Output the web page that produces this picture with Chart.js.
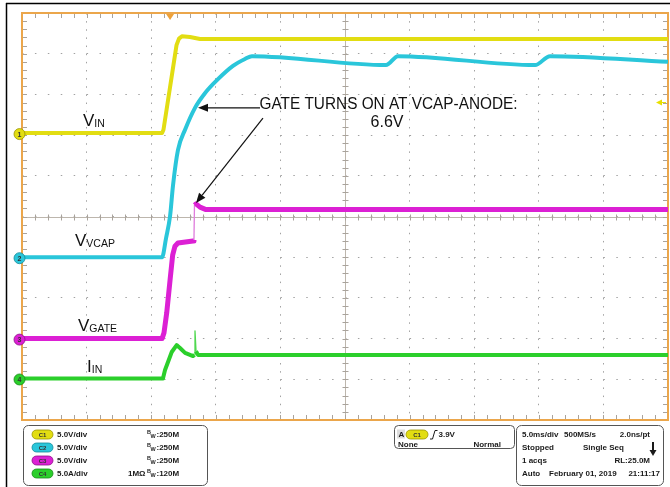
<!DOCTYPE html>
<html><head><meta charset="utf-8">
<script src="https://cdn.jsdelivr.net/npm/chart.js@4"></script>
<style>html,body{margin:0;padding:0;background:#fff;overflow:hidden}#wrap{width:670px;height:487px;position:relative}</style>
</head><body><div id="wrap"><canvas id="c"></canvas></div>
<script>
// ---- data (time in ms, amplitude in graticule divisions) ----
const vinTime  = [0, 10.84, 10.95, 11.96, 12.15, 12.38, 13.0, 13.78, 50];
const vinDiv   = [2.05, 2.05, 2.13, 4.21, 4.37, 4.43, 4.41, 4.36, 4.36];
const vcapTime = [0, 10.84, 11.15, 11.46, 11.69, 12.07, 12.62, 13.39, 14.16, 15.09, 16.33, 17.26, 17.80, 28.17, 29.10, 39.71, 40.87, 50];
const vcapDiv  = [-1.0, -1.0, -0.53, 0.01, 0.77, 1.63, 2.13, 2.67, 3.03, 3.35, 3.70, 3.87, 3.94, 3.72, 3.94, 3.72, 3.94, 3.80];
const gateTime = [0, 10.84, 10.99, 11.2, 11.46, 11.66, 11.84, 12.07, 13.24, 13.31, 13.35, 13.47, 13.78, 14.24, 50];
const gateDiv  = [-3.0, -3.0, -2.86, -2.37, -1.56, -0.95, -0.73, -0.65, -0.60, -0.58, 0.28, 0.31, 0.23, 0.17, 0.17];
const iinTime  = [0, 10.91, 11.07, 11.59, 11.97, 12.23, 12.62, 13.24, 13.35, 13.39, 13.47, 13.62, 50];
const iinDiv   = [-3.98, -3.98, -3.77, -3.33, -3.16, -3.23, -3.35, -3.43, -3.40, -2.81, -3.31, -3.40, -3.40];

const chNames  = ['C1', 'C2', 'C3', 'C4'];
const chScale  = ['5.0V/div', '5.0V/div', '5.0V/div', '5.0A/div'];
const chImp    = ['', '', '', '1MΩ'];
const chBw     = ['250M', '250M', '250M', '120M'];
const chGround = [2.05, -1.0, -3.0, -3.98];
const trigLevelDiv = 2.80;   // C1 ground + 3.9V / 5V/div
const trigTime = 11.46;

const COL = ['#e2dd12', '#2ac6da', '#dc20d4', '#2bcf2b'];
const COLD = ['#9a9600', '#138a99', '#8e1088', '#178a17'];

function pts(t, v) { return t.map((x, i) => ({ x: x, y: v[i] })); }

const FONT = '"Liberation Sans", Arial, sans-serif';
const PFONT = 'bold 8px ' + FONT;

function line(ctx, x1, y1, x2, y2) { ctx.beginPath(); ctx.moveTo(x1, y1); ctx.lineTo(x2, y2); ctx.stroke(); }
function arrow(ctx, x1, y1, x2, y2) {
  const ang = Math.atan2(y2 - y1, x2 - x1), L = 10, W = 4;
  const bx = x2 - L * Math.cos(ang), by = y2 - L * Math.sin(ang);
  line(ctx, x1, y1, bx, by);
  ctx.beginPath(); ctx.moveTo(x2, y2);
  ctx.lineTo(bx + W * Math.sin(ang), by - W * Math.cos(ang));
  ctx.lineTo(bx - W * Math.sin(ang), by + W * Math.cos(ang));
  ctx.closePath(); ctx.fill();
}
function subLabel(ctx, x, y, main, sub) {
  ctx.font = '17px ' + FONT; ctx.textAlign = 'left'; ctx.textBaseline = 'alphabetic';
  ctx.fillText(main, x, y);
  const w = ctx.measureText(main).width;
  ctx.font = '10.5px ' + FONT; ctx.fillText(sub, x + w, y + 1);
}
function rrect(ctx, x, y, w, h, r) {
  ctx.beginPath(); ctx.moveTo(x + r, y); ctx.lineTo(x + w - r, y); ctx.arcTo(x + w, y, x + w, y + r, r);
  ctx.lineTo(x + w, y + h - r); ctx.arcTo(x + w, y + h, x + w - r, y + h, r);
  ctx.lineTo(x + r, y + h); ctx.arcTo(x, y + h, x, y + h - r, r);
  ctx.lineTo(x, y + r); ctx.arcTo(x, y, x + r, y, r); ctx.closePath();
}
function badge(ctx, x, yc, w, i) {
  ctx.save();
  rrect(ctx, x, yc - 4.5, w, 9, 4.5);
  ctx.fillStyle = COL[i]; ctx.fill();
  ctx.strokeStyle = COLD[i]; ctx.lineWidth = 0.8; ctx.stroke();
  ctx.fillStyle = '#333'; ctx.font = 'bold 6px ' + FONT; ctx.textAlign = 'center'; ctx.textBaseline = 'middle';
  ctx.fillText(chNames[i], x + w / 2, yc + 0.5);
  ctx.restore();
}
function ptext(ctx, s, x, y, align) {
  ctx.font = PFONT; ctx.fillStyle = '#1a1a1a'; ctx.textBaseline = 'middle'; ctx.textAlign = align || 'left';
  ctx.fillText(s, x, y);
}

const scopePlugin = {
  id: 'scope',
  beforeDatasetsDraw(chart) {
    const { ctx, chartArea: a, scales: { x, y } } = chart;
    ctx.save();
    const cx = Math.round(x.getPixelForValue(25)) + 0.5, cy = Math.round(y.getPixelForValue(0)) + 0.5;
    ctx.strokeStyle = '#bdb6ad'; ctx.lineWidth = 1;
    line(ctx, a.left, cy, a.right, cy); line(ctx, cx, a.top, cx, a.bottom);
    ctx.strokeStyle = '#a9a39c';
    for (let t = 1; t < 50; t++) {
      const px = Math.round(x.getPixelForValue(t)) + 0.5;
      line(ctx, px, cy - 3, px, cy + 3);
      line(ctx, px, a.top, px, a.top + 5);
      line(ctx, px, a.bottom - 5, px, a.bottom);
    }
    for (let k = -24; k < 25; k++) {
      const py = Math.round(y.getPixelForValue(k * 0.2)) + 0.5;
      line(ctx, cx - 3, py, cx + 3, py);
      line(ctx, a.left, py, a.left + 5, py);
      line(ctx, a.right - 5, py, a.right, py);
    }
    ctx.strokeStyle = '#eba64b'; ctx.lineWidth = 2;
    ctx.strokeRect(a.left, a.top, a.right - a.left, a.bottom - a.top);
    ctx.restore();
  },
  afterDraw(chart) {
    const { ctx, chartArea: a, scales: { x, y } } = chart;
    ctx.save();
    // outer frame
    ctx.strokeStyle = '#000'; ctx.lineWidth = 1.5;
    line(ctx, 6, 3.5, 670, 3.5); line(ctx, 6.5, 3, 6.5, 487);
    // trigger position marker
    const tx = x.getPixelForValue(trigTime);
    ctx.fillStyle = '#eda13a';
    ctx.beginPath(); ctx.moveTo(tx - 4, a.top + 1); ctx.lineTo(tx + 4, a.top + 1); ctx.lineTo(tx, a.top + 7); ctx.closePath(); ctx.fill();
    // trigger level marker
    const ty = y.getPixelForValue(trigLevelDiv);
    ctx.fillStyle = '#e8e000';
    ctx.beginPath(); ctx.moveTo(a.right - 12, ty); ctx.lineTo(a.right - 6, ty - 3); ctx.lineTo(a.right - 6, ty + 3); ctx.closePath(); ctx.fill();
    ctx.strokeStyle = '#e8e000'; ctx.lineWidth = 1; line(ctx, a.right - 6, ty, a.right - 2, ty);
    // channel ground markers
    for (let i = 0; i < 4; i++) {
      const py = y.getPixelForValue(chGround[i]) + 1;
      ctx.beginPath(); ctx.arc(a.left - 2.5, py, 5.5, 0, Math.PI * 2);
      ctx.fillStyle = COL[i]; ctx.fill(); ctx.strokeStyle = COLD[i]; ctx.lineWidth = 0.8; ctx.stroke();
      ctx.fillStyle = '#333'; ctx.font = 'bold 7px ' + FONT; ctx.textAlign = 'center'; ctx.textBaseline = 'middle';
      ctx.fillText(String(i + 1), a.left - 2.5, py + 0.5);
    }
    // trace labels
    ctx.fillStyle = '#111';
    subLabel(ctx, x.getPixelForValue(4.72), y.getPixelForValue(2.22), 'V', 'IN');
    subLabel(ctx, x.getPixelForValue(4.10), y.getPixelForValue(-0.72), 'V', 'VCAP');
    subLabel(ctx, x.getPixelForValue(4.33), y.getPixelForValue(-2.81), 'V', 'GATE');
    subLabel(ctx, x.getPixelForValue(5.03), y.getPixelForValue(-3.82), 'I', 'IN');
    // annotation
    ctx.font = '16px ' + FONT; ctx.textAlign = 'center'; ctx.textBaseline = 'alphabetic';
    ctx.fillText('GATE TURNS ON AT VCAP-ANODE:', x.getPixelForValue(28.37), y.getPixelForValue(2.64), 258);
    ctx.fillText('6.6V', x.getPixelForValue(28.25), y.getPixelForValue(2.20));
    ctx.strokeStyle = '#111'; ctx.lineWidth = 1.2;
    arrow(ctx, x.getPixelForValue(18.42), y.getPixelForValue(2.67), x.getPixelForValue(13.62), y.getPixelForValue(2.67));
    arrow(ctx, x.getPixelForValue(18.65), y.getPixelForValue(2.42), x.getPixelForValue(13.47), y.getPixelForValue(0.33));
    // ---- bottom panel ----
    ctx.strokeStyle = '#555'; ctx.lineWidth = 1;
    rrect(ctx, 23.5, 425.5, 184, 60, 5); ctx.stroke();
    rrect(ctx, 394.5, 425.5, 120, 23, 4); ctx.stroke();
    rrect(ctx, 516.5, 425.5, 147, 60, 5); ctx.stroke();
    const rows = [434.5, 447.5, 460.5, 473.5];
    for (let i = 0; i < 4; i++) {
      const yc = rows[i];
      badge(ctx, 32, yc, 21, i);
      ptext(ctx, chScale[i], 57, yc);
      if (chImp[i]) ptext(ctx, chImp[i], 128, yc);
      ctx.font = 'bold 5.5px ' + FONT;
      ctx.fillText('B', 147, yc - 2.5);
      ctx.fillText('W', 150.5, yc + 1.5);
      ptext(ctx, ':' + chBw[i], 156.5, yc);
    }
    // trigger box
    ctx.fillStyle = '#ddd'; ctx.fillRect(397, 429.5, 8, 9);
    ptext(ctx, 'A', 398.5, 434.5);
    badge(ctx, 406, 434.5, 22, 0);
    ctx.strokeStyle = '#1a1a1a'; ctx.lineWidth = 1;
    ctx.beginPath(); ctx.moveTo(430, 439); ctx.lineTo(432.5, 439); ctx.lineTo(435, 430.5); ctx.lineTo(437.5, 430.5); ctx.stroke();
    ptext(ctx, '3.9V', 438.5, 434.5);
    ptext(ctx, 'None', 398, 444.5);
    ptext(ctx, 'Normal', 501, 444.5, 'right');
    // acquisition box
    ptext(ctx, '5.0ms/div', 522, rows[0]); ptext(ctx, '500MS/s', 564, rows[0]);
    ptext(ctx, 'Stopped', 522, rows[1]); ptext(ctx, 'Single Seq', 583, rows[1]);
    ptext(ctx, '1 acqs', 522, rows[2]);
    ptext(ctx, 'Auto', 522, rows[3]); ptext(ctx, 'February 01, 2019', 549, rows[3]);
    ptext(ctx, '2.0ns/pt', 650, rows[0], 'right'); ptext(ctx, 'RL:25.0M', 650, rows[2], 'right'); ptext(ctx, '21:11:17', 660, rows[3], 'right');
    // run-state arrow
    ctx.fillStyle = '#1a1a1a';
    ctx.fillRect(652, 442, 2, 9);
    ctx.beginPath(); ctx.moveTo(649.5, 450); ctx.lineTo(656.5, 450); ctx.lineTo(653, 456); ctx.closePath(); ctx.fill();
    ctx.restore();
  }
};

const thinSeg = (idxs, w, thinW, thinCol) => ({
  borderWidth: c => idxs.includes(c.p0DataIndex) ? thinW : w,
  borderColor: c => idxs.includes(c.p0DataIndex) ? thinCol : undefined
});

new Chart(document.getElementById('c'), {
  type: 'line',
  data: {
    datasets: [
      { label: 'IIN', data: pts(iinTime, iinDiv), borderColor: COL[3], borderWidth: 4, segment: thinSeg([8, 9], 4, 1.3, '#4fd84f') },
      { label: 'VGATE', data: pts(gateTime, gateDiv), borderColor: COL[2], borderWidth: 5, segment: thinSeg([9], 5, 1.3, '#e07ddc') },
      { label: 'VVCAP', data: pts(vcapTime, vcapDiv), borderColor: COL[1], borderWidth: 4, cubicInterpolationMode: 'monotone' },
      { label: 'VIN', data: pts(vinTime, vinDiv), borderColor: COL[0], borderWidth: 4 }
    ]
  },
  options: {
    animation: false, responsive: true, maintainAspectRatio: false, devicePixelRatio: 1, events: [],
    layout: { padding: { left: 22, top: 13, right: 2, bottom: 67 } },
    elements: { point: { radius: 0 }, line: { tension: 0, borderJoinStyle: 'round', borderCapStyle: 'butt' } },
    plugins: { legend: { display: false }, tooltip: { enabled: false } },
    scales: {
      x: { type: 'linear', min: 0, max: 50, ticks: { display: false, stepSize: 5 },
           grid: { color: '#a2a2a2', lineWidth: 1, drawTicks: false },
           border: { display: false, dash: [1.5, 6.64] } },
      y: { type: 'linear', min: -5, max: 5, ticks: { display: false, stepSize: 1 },
           grid: { color: '#a2a2a2', lineWidth: 1, drawTicks: false },
           border: { display: false, dash: [1.5, 11.42] } }
    }
  },
  plugins: [scopePlugin]
});
</script></body></html>
